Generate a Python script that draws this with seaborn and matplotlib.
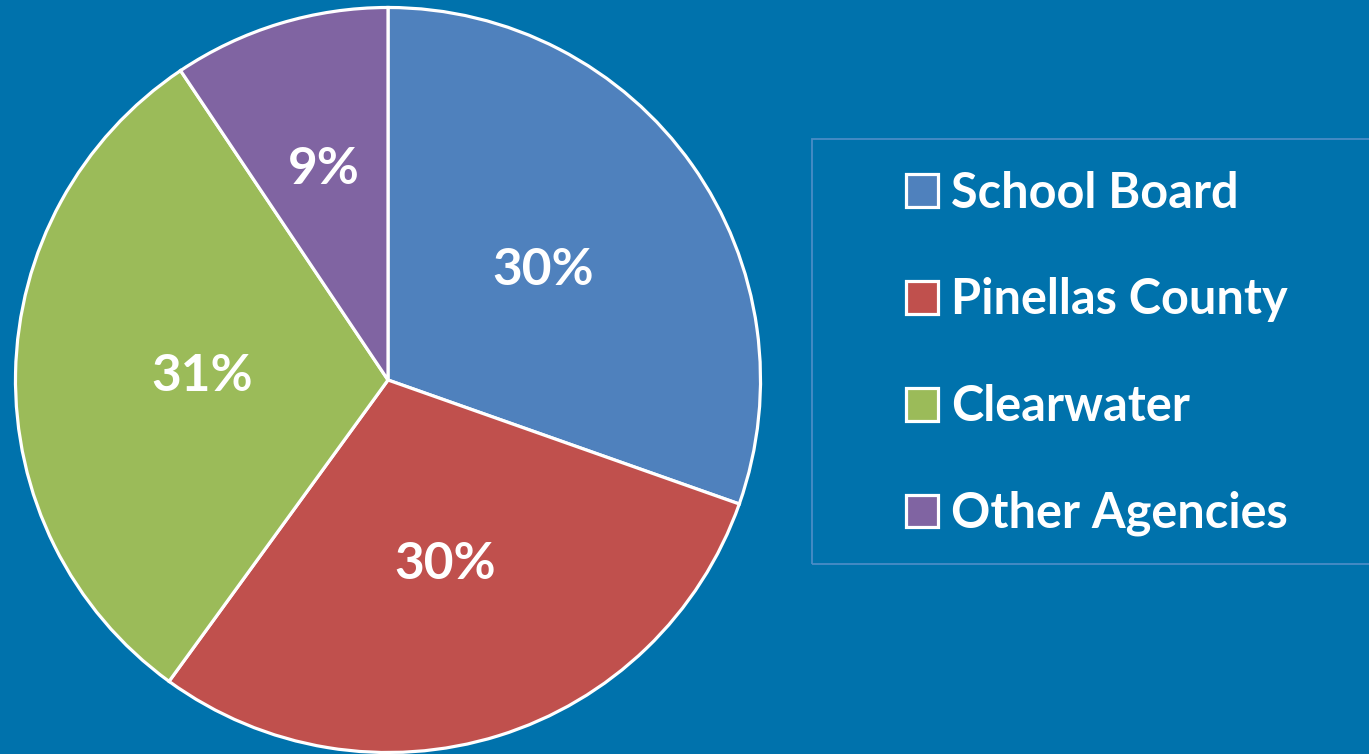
import matplotlib
matplotlib.use("Agg")
import matplotlib.pyplot as plt
import seaborn as sns
from matplotlib.patches import Rectangle
import numpy as np

# data
agencies = ["School Board", "Pinellas County", "Clearwater", "Other Agencies"]
shares = [30.4, 29.6, 30.6, 9.4]
colors = ["#4F81BD", "#C0504D", "#9BBB59", "#8064A2"]
label_radius = [0.51, 0.52, 0.50, 0.59]

bg = "#0072AC"

sns.set_theme(style="white")
plt.rcParams['font.family'] = ['Lato', 'DejaVu Sans']
plt.rcParams['font.weight'] = 'bold'

fig = plt.figure(figsize=(13.69, 7.54), dpi=100, facecolor=bg)
ax = fig.add_axes([14 / 1369, 0 / 754, 748 / 1369, 748 / 754])
ax.set_facecolor(bg)

wedges, texts, autotexts = ax.pie(
    shares, colors=colors, startangle=90, counterclock=False,
    autopct='%.0f%%', pctdistance=0.52,
    wedgeprops=dict(edgecolor='white', linewidth=2.3),
    textprops=dict(color='white', fontsize=37, fontweight='bold'))

# move each percent label along its wedge's mid angle
for w, t, r in zip(wedges, autotexts, label_radius):
    ang = np.deg2rad((w.theta1 + w.theta2) / 2)
    t.set_position((r * np.cos(ang), r * np.sin(ang)))

ax.set_xlim(-1.004, 1.004)
ax.set_ylim(-1.004, 1.004)
ax.set_aspect('equal')
ax.axis('off')

# legend frame
fig.patches.append(Rectangle((812 / 1369, (754 - 564) / 754), 600 / 1369, 425 / 754,
                             transform=fig.transFigure, fill=False,
                             edgecolor='#4A8CC6', linewidth=1.3))

leg = fig.legend(wedges, agencies, loc='upper left',
                 bbox_to_anchor=(862 / 1369, 1 - 127 / 754),
                 frameon=False, fontsize=35,
                 handlelength=0.66, handleheight=0.66, handletextpad=0.28,
                 labelspacing=1.27)
for txt in leg.get_texts():
    txt.set_color('white')
    txt.set_fontweight('bold')

fig.savefig("out.png", dpi=100, facecolor=bg)
